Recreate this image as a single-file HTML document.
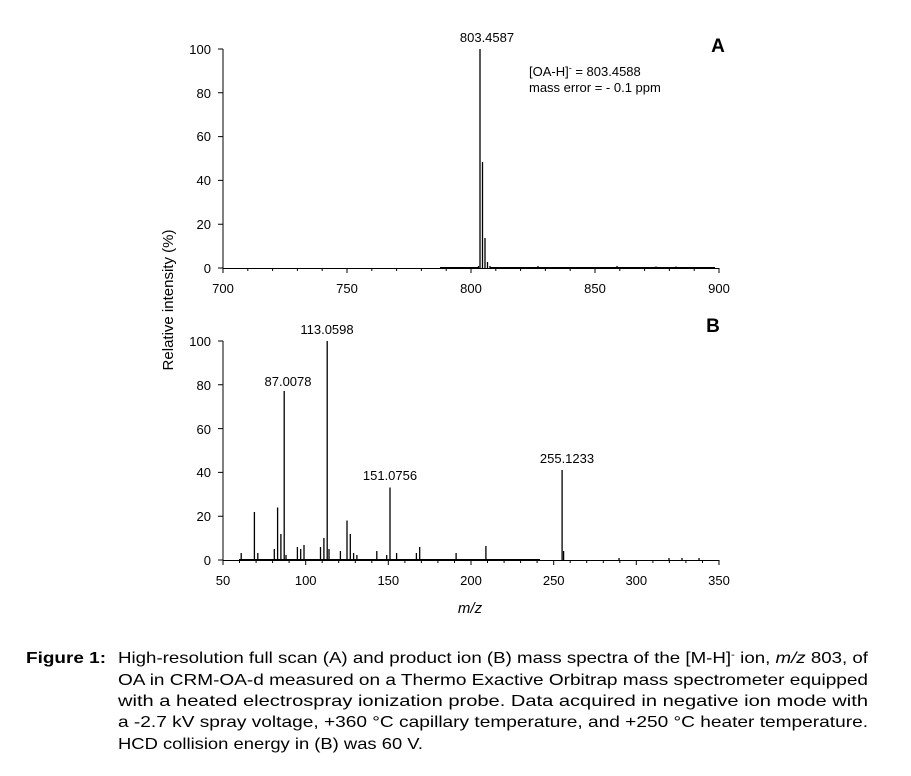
<!DOCTYPE html>
<html><head><meta charset="utf-8"><style>
html,body{margin:0;padding:0;background:#fff;}
svg{display:block;font-family:"Liberation Sans",Arial,sans-serif;}
</style></head><body>
<svg width="911" height="776" viewBox="0 0 911 776" xmlns="http://www.w3.org/2000/svg">
<g stroke="#000" stroke-width="1" fill="none">
<line x1="223" y1="49" x2="223" y2="268.5"/>
<line x1="223" y1="268.5" x2="719" y2="268.5"/>
<path d="M218 49H223M218 92.8H223M218 136.6H223M218 180.4H223M218 224.2H223M218 268H223"/>
<path d="M223 268v5M247.8 268v3M272.6 268v3M297.4 268v3M322.2 268v3M347 268v5M371.8 268v3M396.6 268v3M421.4 268v3M446.2 268v3M471 268v5M495.8 268v3M520.6 268v3M545.4 268v3M570.2 268v3M595 268v5M619.8 268v3M644.6 268v3M669.4 268v3M694.2 268v3M719 268v5"/>
<line x1="223" y1="341" x2="223" y2="560.5"/>
<line x1="223" y1="560.5" x2="719" y2="560.5"/>
<path d="M218 341H223M218 384.8H223M218 428.6H223M218 472.4H223M218 516.2H223M218 560H223"/>
<path d="M223 560v5M239.5 560v3M256.1 560v3M272.6 560v3M289.1 560v3M305.7 560v5M322.2 560v3M338.7 560v3M355.3 560v3M371.8 560v3M388.3 560v5M404.9 560v3M421.4 560v3M437.9 560v3M454.5 560v3M471 560v5M487.5 560v3M504.1 560v3M520.6 560v3M537.1 560v3M553.7 560v5M570.2 560v3M586.7 560v3M603.3 560v3M619.8 560v3M636.3 560v5M652.9 560v3M669.4 560v3M685.9 560v3M702.5 560v3M719 560v5"/>
</g>
<g stroke="#000" stroke-width="1.3">
<line x1="480" y1="268" x2="480" y2="49"/>
<line x1="482.5" y1="268" x2="482.5" y2="162"/>
<line x1="485" y1="268" x2="485" y2="238"/>
<line x1="487.5" y1="268" x2="487.5" y2="262"/>
<line x1="478.5" y1="268" x2="478.5" y2="266"/>
<line x1="490" y1="268" x2="490" y2="266"/>
<line x1="538" y1="268" x2="538" y2="266"/>
<line x1="617" y1="268" x2="617" y2="266"/>
<line x1="656" y1="268" x2="656" y2="266.5"/>
<line x1="676" y1="268" x2="676" y2="266.5"/>
</g>
<g stroke="#000" stroke-width="1"><line x1="440" y1="267.5" x2="478" y2="267.5"/><line x1="490" y1="267.5" x2="715" y2="267.5"/></g>
<g stroke="#000" stroke-width="1.3">
<line x1="241.2" y1="560" x2="241.2" y2="553"/>
<line x1="254.4" y1="560" x2="254.4" y2="512"/>
<line x1="257.8" y1="560" x2="257.8" y2="553"/>
<line x1="274.3" y1="560" x2="274.3" y2="549"/>
<line x1="277.6" y1="560" x2="277.6" y2="507.5"/>
<line x1="280.9" y1="560" x2="280.9" y2="534"/>
<line x1="284.2" y1="560" x2="284.2" y2="391"/>
<line x1="286" y1="560" x2="286" y2="555"/>
<line x1="297.4" y1="560" x2="297.4" y2="547"/>
<line x1="300.7" y1="560" x2="300.7" y2="549"/>
<line x1="304" y1="560" x2="304" y2="545"/>
<line x1="320.5" y1="560" x2="320.5" y2="547"/>
<line x1="323.9" y1="560" x2="323.9" y2="538"/>
<line x1="327.2" y1="560" x2="327.2" y2="341"/>
<line x1="329" y1="560" x2="329" y2="549"/>
<line x1="340.4" y1="560" x2="340.4" y2="551"/>
<line x1="347" y1="560" x2="347" y2="520.5"/>
<line x1="350.3" y1="560" x2="350.3" y2="534"/>
<line x1="353.6" y1="560" x2="353.6" y2="553"/>
<line x1="356.9" y1="560" x2="356.9" y2="555"/>
<line x1="376.8" y1="560" x2="376.8" y2="551"/>
<line x1="386.7" y1="560" x2="386.7" y2="555"/>
<line x1="390" y1="560" x2="390" y2="487.5"/>
<line x1="396.6" y1="560" x2="396.6" y2="553"/>
<line x1="416.4" y1="560" x2="416.4" y2="553"/>
<line x1="419.7" y1="560" x2="419.7" y2="547"/>
<line x1="456.1" y1="560" x2="456.1" y2="553"/>
<line x1="485.9" y1="560" x2="485.9" y2="546"/>
<line x1="562.1" y1="560" x2="562.1" y2="470"/>
<line x1="563.6" y1="560" x2="563.6" y2="551"/>
<line x1="619" y1="560" x2="619" y2="558"/>
<line x1="669" y1="560" x2="669" y2="558"/>
<line x1="682" y1="560" x2="682" y2="558"/>
<line x1="699" y1="560" x2="699" y2="558"/>
</g>
<g stroke="#000" stroke-width="1"><line x1="239" y1="559.5" x2="540" y2="559.5"/></g>
<g font-size="13" fill="#000" text-anchor="end">
<text x="211" y="54">100</text><text x="211" y="98">80</text><text x="211" y="141">60</text><text x="211" y="185">40</text><text x="211" y="229">20</text><text x="211" y="273">0</text>
<text x="211" y="346">100</text><text x="211" y="390">80</text><text x="211" y="434">60</text><text x="211" y="477">40</text><text x="211" y="521">20</text><text x="211" y="565">0</text>
</g>
<g font-size="13" fill="#000" text-anchor="middle">
<text x="223" y="293">700</text><text x="347" y="293">750</text><text x="471" y="293">800</text><text x="595" y="293">850</text><text x="719" y="293">900</text>
<text x="223" y="585">50</text><text x="305.7" y="585">100</text><text x="388.3" y="585">150</text><text x="471" y="585">200</text><text x="553.7" y="585">250</text><text x="636.3" y="585">300</text><text x="719" y="585">350</text>
<text x="487" y="42">803.4587</text>
<text x="327" y="334">113.0598</text>
<text x="288" y="386">87.0078</text>
<text x="390" y="480">151.0756</text>
<text x="567" y="463">255.1233</text>
</g>
<g font-size="13" fill="#000">
<text x="529" y="76">[OA-H]<tspan dy="-5" font-size="9">-</tspan><tspan dy="5"> = 803.4588</tspan></text>
<text x="529" y="92">mass error = - 0.1 ppm</text>
</g>
<text x="718" y="52" font-size="19" font-weight="bold" text-anchor="middle">A</text>
<text x="713" y="332" font-size="19" font-weight="bold" text-anchor="middle">B</text>
<text transform="translate(173,300) rotate(-90)" font-size="15" text-anchor="middle">Relative intensity (%)</text>
<text x="470" y="613" font-size="15" font-style="italic" text-anchor="middle">m/z</text>
<g font-size="16" fill="#000">
<text x="26" y="663" font-weight="bold" textLength="80" lengthAdjust="spacingAndGlyphs">Figure 1:</text>
<text x="118" y="663" textLength="750" lengthAdjust="spacingAndGlyphs">High-resolution full scan (A) and product ion (B) mass spectra of the [M-H]<tspan dy="-5" font-size="10">-</tspan><tspan dy="5"> ion, <tspan font-style="italic">m/z</tspan> 803, of</tspan></text>
<text x="118" y="685" textLength="750" lengthAdjust="spacingAndGlyphs">OA in CRM-OA-d measured on a Thermo Exactive Orbitrap mass spectrometer equipped</text>
<text x="118" y="706" textLength="750" lengthAdjust="spacingAndGlyphs">with a heated electrospray ionization probe. Data acquired in negative ion mode with</text>
<text x="118" y="727" textLength="750" lengthAdjust="spacingAndGlyphs">a -2.7 kV spray voltage, +360 °C capillary temperature, and +250 °C heater temperature.</text>
<text x="118" y="749" textLength="305" lengthAdjust="spacingAndGlyphs">HCD collision energy in (B) was 60 V.</text>
</g>
</svg>
</body></html>
